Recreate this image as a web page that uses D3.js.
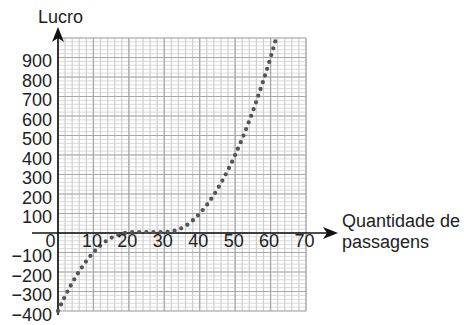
<!DOCTYPE html>
<html><head><meta charset="utf-8">
<script src="https://cdn.jsdelivr.net/npm/d3@7"></script>
<style>
html,body{margin:0;padding:0;background:#fff;}
svg{display:block;font-family:"Liberation Sans",Arial,sans-serif;}
</style></head>
<body>
<svg id="c" width="464" height="325"></svg>
<script>
// Data
const passagens = [0,2,4,6,8,10,12,14,16,18,20,22,24,26,28,30,32,34,36,38,40,42,44,46,48,50,52,54,56,58,60,61.6];
const lucro     = [-400,-324,-256,-196,-144,-100,-64,-36,-16,-4,3,5,5,5,5,5,8,18,36,64,100,144,196,256,324,400,484,576,676,784,900,1000];
const xTickLabels = ["0","10","20","30","40","50","60","70"];
const yTickLabels = ["900","800","700","600","500","400","300","200","100","−100","−200","−300","−400"];
const yTickValues = [900,800,700,600,500,400,300,200,100,-100,-200,-300,-400];
const xTickValues = [0,10,20,30,40,50,60,70];

const svg = d3.select("#c");
const x = d3.scaleLinear().domain([0,70]).range([58,306]);
const y = d3.scaleLinear().domain([-400,1000]).range([311,38]);

const grid = svg.append("g");
// minor grid
grid.selectAll(".hm").data(d3.range(-400,1001,20)).enter().append("line")
  .attr("x1",x(0)).attr("x2",x(70)).attr("y1",d=>y(d)).attr("y2",d=>y(d))
  .attr("stroke","#dadada").attr("stroke-width",1);
grid.selectAll(".vm").data(d3.range(0,71,2)).enter().append("line")
  .attr("x1",d=>x(d)).attr("x2",d=>x(d)).attr("y1",y(-400)).attr("y2",y(1000))
  .attr("stroke","#cfcfcf").attr("stroke-width",1.2);
// major grid
grid.selectAll(".vM").data(d3.range(0,71,10)).enter().append("line")
  .attr("x1",d=>x(d)).attr("x2",d=>x(d)).attr("y1",y(-400)).attr("y2",y(1000))
  .attr("stroke","#a8a8a8").attr("stroke-width",1.2);
grid.selectAll(".hM").data(d3.range(-400,1001,100)).enter().append("line")
  .attr("x1",x(0)).attr("x2",x(70)).attr("y1",d=>y(d)).attr("y2",d=>y(d))
  .attr("stroke","#a8a8a8").attr("stroke-width",1.2);

// axes
const ax = svg.append("g");
ax.append("line").attr("x1",x(0)).attr("x2",x(0)).attr("y1",315).attr("y2",34)
  .attr("stroke","#111").attr("stroke-width",1.6);
ax.append("path").attr("d",`M${x(0)},27 L${x(0)-6},42 L${x(0)},38 L${x(0)+6},42 Z`).attr("fill","#111");
ax.append("line").attr("x1",32).attr("x2",331).attr("y1",y(0)).attr("y2",y(0))
  .attr("stroke","#111").attr("stroke-width",1.6);
ax.append("path").attr("d",`M338,${y(0)} L323,${y(0)-6} L327,${y(0)} L323,${y(0)+6} Z`).attr("fill","#111");

// dotted curve
const line = d3.line().x((d,i)=>x(passagens[i])).y(d=>y(d)).curve(d3.curveMonotoneX);
svg.append("path").datum(lucro).attr("d",line)
  .attr("fill","none").attr("stroke","#555").attr("stroke-width",4.3)
  .attr("stroke-linecap","round").attr("stroke-dasharray","0 7.1");

// tick labels
const txt = svg.append("g").attr("fill","#222").attr("font-size",18);
txt.selectAll(".yl").data(yTickValues).enter().append("text")
  .attr("x",52).attr("y",d=>y(d)+9.5).attr("text-anchor","end")
  .text((d,i)=>yTickLabels[i]);
txt.selectAll(".xl").data(xTickValues).enter().append("text")
  .attr("x",d=> d===0 ? x(0)-2.5 : x(d)-1.5).attr("y",y(0)+13.5)
  .attr("text-anchor",d=> d===0 ? "end" : "middle")
  .text((d,i)=>xTickLabels[i]);

txt.append("text").attr("x",38).attr("y",23).text("Lucro");
txt.append("text").attr("x",342).attr("y",227).text("Quantidade de");
txt.append("text").attr("x",342).attr("y",248).text("passagens");
</script>
</body></html>
